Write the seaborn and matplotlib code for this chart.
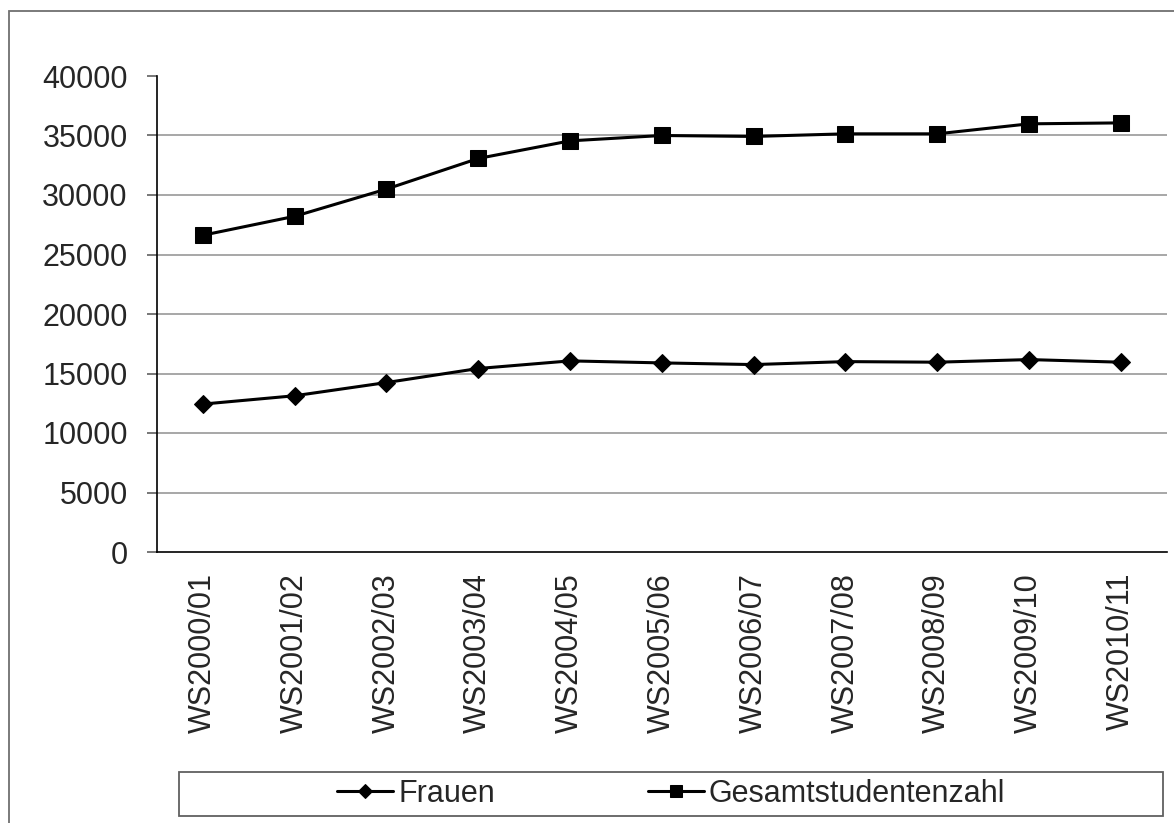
import matplotlib.patches as mpatches
import matplotlib.pyplot as plt
import numpy as np
import pandas as pd
import seaborn as sns

# Daten
semester = ['WS2000/01', 'WS2001/02', 'WS2002/03', 'WS2003/04', 'WS2004/05', 'WS2005/06',
            'WS2006/07', 'WS2007/08', 'WS2008/09', 'WS2009/10', 'WS2010/11']
frauen = [12430, 13130, 14240, 15420, 16060, 15890, 15750, 16000, 15950, 16170, 15950]
gesamt = [26620, 28210, 30500, 33070, 34550, 35000, 34920, 35140, 35140, 35980, 36060]
y_ticks = list(range(0, 40001, 5000))

W, H = 1174, 823

sns.set_style('white')
plt.rcParams['font.family'] = ['Liberation Sans', 'DejaVu Sans']

df = pd.DataFrame({'Semester': semester, 'Frauen': frauen, 'Gesamtstudentenzahl': gesamt})

fig = plt.figure(figsize=(W / 100, H / 100), dpi=100)
ax = fig.add_axes([157 / W, 1 - 552 / H, (1166.7 - 157) / W, (552 - 76) / H])

# Linien zeichnen
sns.lineplot(data=df, x='Semester', y='Frauen', ax=ax, color='black', lw=2.2,
             marker='D', markersize=9.5, markeredgecolor='black', sort=False, label='Frauen')
sns.lineplot(data=df, x='Semester', y='Gesamtstudentenzahl', ax=ax, color='black', lw=2.2,
             marker='s', markersize=11.5, markeredgecolor='black', sort=False,
             label='Gesamtstudentenzahl')

ax.set_xlim(-0.5, len(semester) - 0.5)
ax.set_ylim(0, 40000)
ax.set_yticks(y_ticks)
ax.set_yticklabels([str(v) for v in y_ticks])
ax.set_xlabel('')
ax.set_ylabel('')

# Gitterlinien (ohne 0 und 40000)
for v in y_ticks[1:-1]:
    ax.axhline(v, color='#a0a0a0', lw=1.3, zorder=0)

# Achsen
for s in ['top', 'right']:
    ax.spines[s].set_visible(False)
for s in ['left', 'bottom']:
    ax.spines[s].set_color('black')
    ax.spines[s].set_linewidth(1.2)

ax.set_xticks(range(len(semester)))
ax.set_xticklabels(semester, rotation=90, va='top', ha='center')
ax.set_xticks(np.arange(-0.5, len(semester), 1.0), minor=True)
ax.tick_params(axis='x', which='major', length=0, pad=15, labelsize=22)
ax.tick_params(axis='x', which='minor', length=7, width=1.2, color='#808080', direction='out')
ax.tick_params(axis='y', length=7, width=1.2, color='#606060', direction='out', pad=14,
               labelsize=22, left=True)

# Legende mit Rahmen
leg = ax.legend(loc='center', bbox_to_anchor=(671 / W, 1 - 794 / H), bbox_transform=fig.transFigure,
                ncol=2, frameon=False, fontsize=22, handlelength=1.85, handletextpad=0.15,
                columnspacing=5.0, markerscale=0.8)
fig.patches.append(mpatches.Rectangle((179 / W, 1 - 816 / H), (1163 - 179) / W, 44 / H,
                                      transform=fig.transFigure, fill=False,
                                      edgecolor='#606060', lw=1.3))

# Äußerer Diagrammrahmen
fig.patches.append(mpatches.Rectangle((9 / W, -0.5), 1.5, 1 - 11 / H + 0.5,
                                      transform=fig.transFigure, fill=False,
                                      edgecolor='#707070', lw=1.3))

fig.savefig('out.png', dpi=100)
